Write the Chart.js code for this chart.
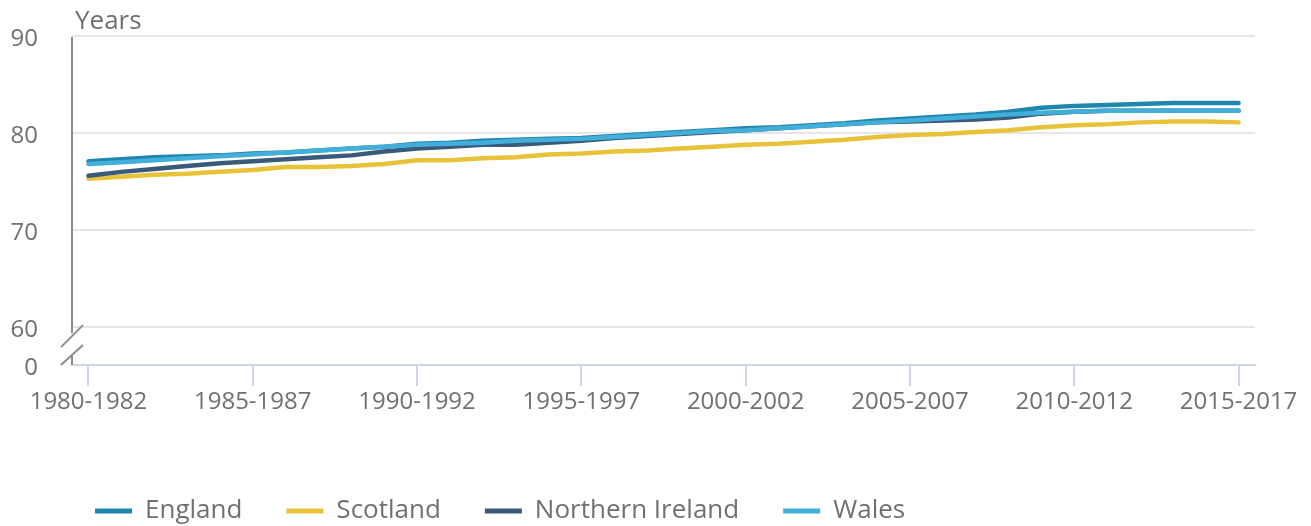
<!DOCTYPE html>
<html>
<head>
<meta charset="utf-8">
<script src="https://cdn.jsdelivr.net/npm/chart.js@4.4.1/dist/chart.umd.min.js"></script>
<style>
html,body{margin:0;padding:0;background:#fff;}
#wrap{width:1311px;height:526px;position:relative;}
</style>
</head>
<body>
<div id="wrap"><canvas id="c" width="1311" height="526"></canvas></div>
<script>
const categories = ["1980-1982","1981-1983","1982-1984","1983-1985","1984-1986","1985-1987","1986-1988","1987-1989","1988-1990","1989-1991",
"1990-1992","1991-1993","1992-1994","1993-1995","1994-1996","1995-1997","1996-1998","1997-1999","1998-2000","1999-2001",
"2000-2002","2001-2003","2002-2004","2003-2005","2004-2006","2005-2007","2006-2008","2007-2009","2008-2010","2009-2011",
"2010-2012","2011-2013","2012-2014","2013-2015","2014-2016","2015-2017"];

const england = [77.1,77.3,77.5,77.6,77.7,77.9,78.0,78.2,78.4,78.6,78.9,79.0,79.2,79.3,79.4,79.5,79.7,79.9,80.1,80.3,80.5,80.6,80.8,81.0,81.3,81.5,81.7,81.9,82.2,82.6,82.8,82.9,83.0,83.1,83.1,83.1];
const scotland = [75.3,75.5,75.7,75.8,76.0,76.2,76.5,76.5,76.6,76.8,77.2,77.2,77.4,77.5,77.8,77.9,78.1,78.2,78.4,78.6,78.8,78.9,79.1,79.3,79.6,79.8,79.9,80.1,80.3,80.6,80.8,80.9,81.1,81.2,81.2,81.1];
const northernIreland = [75.6,76.0,76.3,76.6,76.9,77.1,77.3,77.5,77.7,78.1,78.4,78.6,78.8,78.8,79.0,79.2,79.5,79.7,79.9,80.1,80.3,80.5,80.7,80.9,81.1,81.2,81.3,81.4,81.6,82.0,82.2,82.3,82.3,82.3,82.3,82.3];
const wales = [76.8,77.0,77.2,77.4,77.6,77.8,78.0,78.2,78.4,78.6,78.8,78.9,79.0,79.2,79.3,79.4,79.6,79.8,80.0,80.2,80.3,80.5,80.7,80.9,81.1,81.3,81.5,81.7,81.9,82.1,82.2,82.3,82.3,82.3,82.3,82.3];

const seriesNames = ["England","Scotland","Northern Ireland","Wales"];
const yTickValues = [60,70,80,90];
const yBreakValue = 56.1;   // bottom of broken axis, labelled "0"
const yBreakLabel = "0";
const yAxisTitle = "Years";

const colors = ["#1f86ad","#e8c33a","#3a5a7b","#41afda"];
const textColor = "#707070";
const FONT = "'Open Sans', sans-serif";
Chart.defaults.font.family = FONT;
Chart.defaults.color = textColor;

const seriesData = [england, scotland, northernIreland, wales];
const datasets = seriesNames.map((n,i)=>({
  label:n, data:seriesData[i], borderColor:colors[i], backgroundColor:colors[i],
  borderWidth:4.5, pointRadius:0, tension:0, fill:false,
  borderCapStyle:'round', borderJoinStyle:'round', order:3-i
}));

const axisPlugin = {
  id:'axisDecor',
  afterLayout(chart){
    const l = chart.legend;
    const dx = 51 - l.left, dy = 454 - l.top;
    l.left += dx; l.right += dx; l.top += dy; l.bottom += dy;
  },
  afterDraw(chart){
    const ctx = chart.ctx, ca = chart.chartArea, ys = chart.scales.y;
    const x = ca.left, y60 = ys.getPixelForValue(yTickValues[0]), yb = ca.bottom;
    ctx.save();
    ctx.strokeStyle = '#8c8c8c';
    ctx.lineWidth = 2;
    ctx.beginPath();
    ctx.moveTo(x, ca.top+1); ctx.lineTo(x, y60+6);
    ctx.moveTo(x, yb-9); ctx.lineTo(x, yb);
    ctx.stroke();
    ctx.beginPath();
    const c1 = y60+9, c2 = yb-10;
    ctx.moveTo(x-11, c1+11); ctx.lineTo(x+11, c1-11);
    ctx.moveTo(x-11, c2+10); ctx.lineTo(x+11, c2-10);
    ctx.stroke();
    ctx.fillStyle = textColor;
    ctx.font = "26px " + FONT;
    ctx.textAlign = 'left';
    ctx.textBaseline = 'alphabetic';
    ctx.fillText(yAxisTitle, x+3, 29);
    ctx.restore();
  }
};

new Chart(document.getElementById('c'), {
  type:'line',
  data:{labels:categories, datasets},
  plugins:[axisPlugin],
  options:{
    responsive:false, animation:false, maintainAspectRatio:false,
    layout:{padding:{top:36,right:56,left:0,bottom:11}},
    plugins:{
      tooltip:{enabled:false},
      legend:{
        position:'bottom', align:'start',
        labels:{
          boxWidth:37, boxHeight:5, padding:44, color:textColor,
          font:{size:26, family:FONT},
          sort:(a,b)=>a.datasetIndex-b.datasetIndex,
          generateLabels(chart){
            return chart.data.datasets.map((d,i)=>({text:d.label, fillStyle:d.borderColor, strokeStyle:d.borderColor, lineWidth:0, datasetIndex:i, hidden:false, fontColor:textColor}));
          }
        }
      }
    },
    scales:{
      x:{
        offset:true,
        afterFit(s){ s.height = 70; },
        grid:{display:true, drawOnChartArea:false, drawTicks:true, tickLength:21, color:'#ccd6eb', lineWidth:2},
        border:{display:true, color:'#ccd6eb', width:2},
        ticks:{autoSkip:false, maxRotation:0, padding:2, color:textColor, font:{size:24},
          callback(v,i){ return i%5===0 ? this.getLabelForValue(v) : null; }}
      },
      y:{
        min:yBreakValue, max:yTickValues[yTickValues.length-1],
        afterFit(s){ s.width = 72; s.paddingTop = 14; s.paddingBottom = 14; },
        afterBuildTicks(s){ s.ticks = [yBreakValue, ...yTickValues].map(v=>({value:v})); },
        grid:{drawTicks:false, lineWidth:2, color:(c)=> (c.tick && c.tick.value < yTickValues[0]) ? 'rgba(0,0,0,0)' : '#e6e6e6'},
        border:{display:false},
        ticks:{padding:34, labelOffset:3, color:textColor, font:{size:24},
          callback(v){ return v < yTickValues[0] ? yBreakLabel : String(v); }}
      }
    }
  }
});
</script>
</body>
</html>
